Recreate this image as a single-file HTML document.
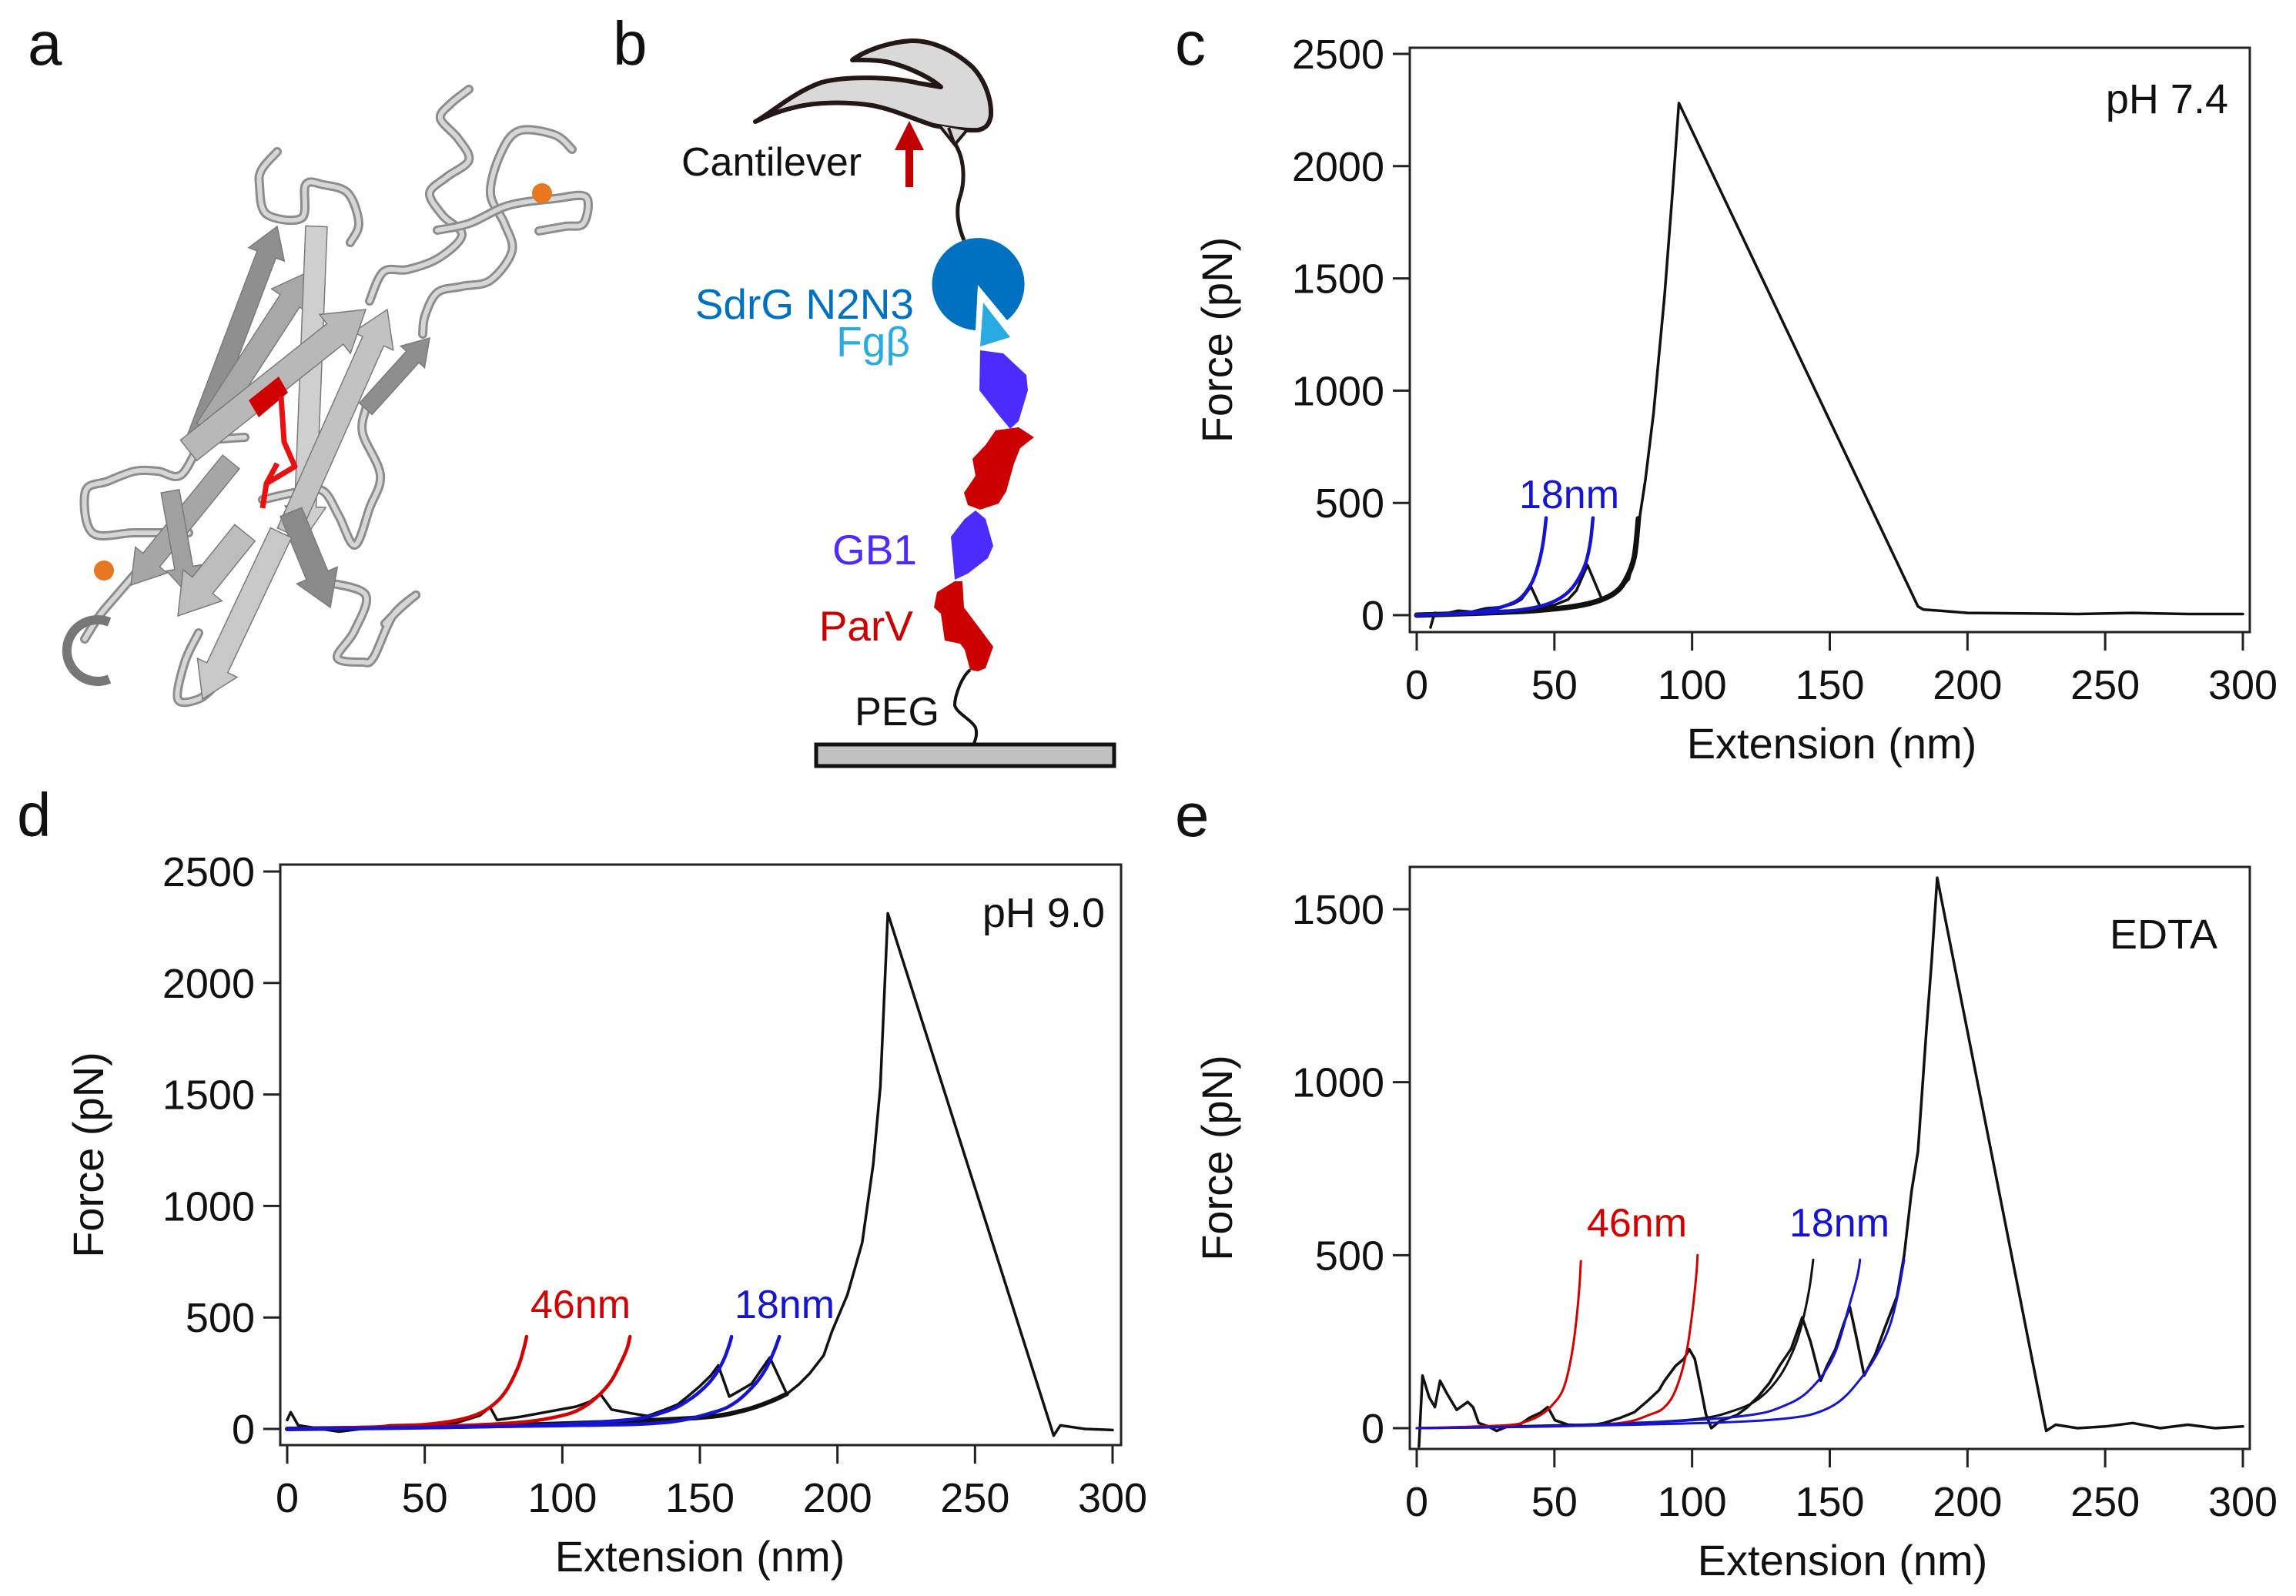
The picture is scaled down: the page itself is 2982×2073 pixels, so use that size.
<!DOCTYPE html>
<html><head><meta charset="utf-8"><style>
html,body{margin:0;padding:0;background:#fff;}
svg{display:block;font-family:"Liberation Sans",Arial,sans-serif;}
</style></head><body>
<svg id="fig" xmlns="http://www.w3.org/2000/svg" width="2982" height="2073" viewBox="0 0 2982 2073">
<rect x="0" y="0" width="2982" height="2073" fill="#fff"/>
<g font-size="80" fill="#111">
<text x="36" y="84">a</text>
<text x="796" y="84">b</text>
<text x="1526" y="84">c</text>
<text x="22" y="1086">d</text>
<text x="1526" y="1086">e</text>
</g>
<g id="panelA"></g>
<g id="panelB">
<path d="M981,158 C1000,148 1030,120 1067,107 C1100,98 1160,100 1193,108 L1222,113 C1210,102 1180,86 1150,80 C1130,77 1115,78 1107,78 C1120,68 1150,55 1183,53 C1210,52 1240,66 1263,87 C1280,105 1288,130 1287,150 C1285,162 1280,167 1270,169 C1255,170 1235,167 1213,163 C1190,156 1160,142 1133,137 C1100,132 1060,132 1030,140 C1005,146 990,154 981,158 Z" fill="#d9d9d9" stroke="#231815" stroke-width="6" stroke-linejoin="round"/>
<path d="M1220,163 L1240,188 L1255,170 M1232,166 L1240,188" fill="#d9d9d9" stroke="#231815" stroke-width="4"/>
<path d="M1176,243 L1176,195 L1162,195 L1181,157 L1200,195 L1186,195 L1186,243 Z" fill="#c00000"/>
<text x="885" y="228" font-size="52" fill="#111">Cantilever</text>
<path d="M1240,186 C1255,210 1252,240 1247,255 C1240,275 1245,295 1252,312" fill="none" stroke="#231815" stroke-width="5"/>
<path d="M1270,370 L1267,429 A60,60 0 1 1 1308,416 Z" fill="#0070c0"/>
<path d="M1277,393 L1312,438 L1273,450 Z" fill="#29abe2"/>
<text x="1187" y="414" font-size="55" fill="#0070c0" text-anchor="end">SdrG N2N3</text>
<text x="1182" y="463" font-size="55" fill="#29abe2" text-anchor="end">Fgβ</text>
<path d="M1273,455 L1303,459 L1333,487 L1335,507 L1323,547 L1312,557 L1297,539 L1272,507 Z" fill="#4a2cff"/>
<path d="M1293,559 L1323,555 L1343,568 L1325,582 L1317,602 L1307,638 L1297,654 L1273,662 L1257,656 L1252,640 L1267,618 L1263,596 L1280,578 Z" fill="#cc0000"/>
<path d="M1267,663 L1280,674 L1290,709 L1283,725 L1257,745 L1240,753 L1238,729 L1235,697 L1253,674 Z" fill="#4a2cff"/>
<path d="M1240,755 L1250,755 L1252,789 L1273,817 L1290,840 L1280,868 L1270,872 L1260,870 L1253,844 L1247,836 L1227,832 L1222,797 L1213,789 L1217,769 Z" fill="#cc0000"/>
<text x="1191" y="733" font-size="55" fill="#4a2cff" text-anchor="end">GB1</text>
<text x="1186" y="832" font-size="55" fill="#cc0000" text-anchor="end">ParV</text>
<path d="M1260,870 C1248,880 1240,905 1240,916 C1242,926 1262,935 1267,945 C1270,955 1266,962 1265,966" fill="none" stroke="#111" stroke-width="4"/>
<text x="1220" y="942" font-size="52" fill="#111" text-anchor="end">PEG</text>
<rect x="1060" y="967" width="387" height="28" fill="#c0c0c0" stroke="#111" stroke-width="5"/>
</g>
<g id="chartC"></g>
<g id="chartD"></g>
<g id="chartE"></g>
</svg>
<script>
// ---------- shared tick data ----------
const xTickVals = [0, 50, 100, 150, 200, 250, 300];
const cYTicks = [0, 500, 1000, 1500, 2000, 2500];
const dYTicks = [0, 500, 1000, 1500, 2000, 2500];
const eYTicks = [0, 500, 1000, 1500];

// ---------- panel c (pH 7.4) ----------
const cTraceX = [5, 6.5, 10, 15, 20, 25, 30, 35, 38, 41.5, 45, 50, 55, 58, 62, 67.4, 71, 74, 77, 79, 81, 83, 86, 90, 93, 95.2, 182, 184, 190, 200, 220, 240, 260, 280, 300];
const cTraceY = [-55, 10, 5, 20, 15, 30, 35, 50, 70, 127, 33, 45, 70, 110, 223, 66, 90, 120, 160, 263, 438, 600, 900, 1423, 1900, 2281, 39, 25, 20, 10, 8, 5, 10, 5, 5];
const cFitBlackX = [0, 20, 40, 55, 65, 72, 76, 79, 80.5];
const cFitBlackY = [0, 8, 18, 35, 60, 100, 160, 260, 430];
const cFitBlue1X = [0, 15, 25, 33, 38, 42, 44.5, 46, 47];
const cFitBlue1Y = [0, 8, 20, 45, 80, 150, 240, 330, 433];
const cFitBlue2X = [0, 20, 35, 45, 52, 57, 61, 63, 64];
const cFitBlue2Y = [0, 8, 20, 40, 75, 130, 220, 320, 433];

// ---------- panel d (pH 9.0) ----------
const dTraceX = [0, 1.3, 4, 10, 18.8, 30, 37.5, 50, 61.6, 70, 73.7, 76.3, 85, 93.8, 105, 110, 113.8, 117.9, 125, 131, 137, 142, 146, 150, 154, 156.7, 160.7, 165, 168.8, 172, 175.4, 181.6, 186, 190, 195, 198, 203.6, 209, 213, 215.6, 218.3, 278.6, 281, 290, 300];
const dTraceY = [40, 75, 16, 5, -12, 5, 16, 20, 28, 60, 98, 40, 55, 75, 100, 122, 157, 87, 70, 58, 85, 110, 150, 192, 240, 285, 145, 175, 203, 260, 320, 157, 200, 250, 330, 437, 601, 835, 1186, 1536, 2313, -30, 16, 0, -5];
const dFitBlackX = [0, 60, 110, 150, 165, 175, 181.6];
const dFitBlackY = [0, 10, 28, 51, 80, 120, 157];
const dFitRed1X = [0, 30, 50, 62, 70, 76, 80, 84, 86, 87];
const dFitRed1Y = [0, 8, 20, 40, 70, 120, 180, 280, 360, 414];
const dFitRed2X = [0, 50, 83, 100, 108, 114, 118, 121, 123.5, 124.6];
const dFitRed2Y = [0, 10, 28, 60, 100, 160, 220, 290, 360, 414];
const dFitBlue1X = [0, 80, 123, 138, 146, 152, 156, 159, 161, 161.5];
const dFitBlue1Y = [0, 12, 40, 80, 130, 190, 250, 320, 390, 414];
const dFitBlue2X = [0, 100, 136.6, 155, 163, 170, 174, 177, 178.9];
const dFitBlue2Y = [0, 15, 28, 75, 120, 200, 270, 350, 414];

// ---------- panel e (EDTA) ----------
const eTraceX = [0.8, 2.1, 4.5, 6.6, 8.5, 11, 14.5, 18.5, 20.5, 22.5, 26, 29, 33, 37, 41, 45, 47.6, 50.2, 55, 60, 63.4, 68, 74, 79, 84, 88, 90, 94, 97, 99, 101, 103, 105, 107, 110, 116.3, 120, 124, 128, 132, 136, 140, 143, 146.7, 149, 152, 155, 157.3, 160, 162.5, 166.5, 170, 174.4, 177, 179.7, 182, 185, 187, 189, 228.6, 232, 240, 250, 260, 270, 280, 290, 300];
const eTraceY = [-53, 152, 90, 61, 137, 100, 53, 76, 60, 15, 5, -8, 5, 8, 30, 45, 61, 23, 10, 8, 8, 15, 30, 46, 80, 110, 137, 180, 200, 228, 200, 122, 40, 0, 20, 38, 60, 91, 130, 183, 230, 320, 250, 137, 180, 228, 300, 350, 250, 152, 213, 290, 381, 500, 685, 800, 1142, 1350, 1591, -8, 10, 0, 5, 15, 0, 10, 0, 5];
const eFitBlackX = [0, 60, 100, 116, 125, 132, 137, 140, 142.5, 144];
const eFitBlackY = [0, 10, 25, 53, 90, 152, 230, 305, 400, 487];
const eFitRed1X = [0, 31.7, 40, 45, 49, 52.9, 55.5, 57.5, 59, 59.6];
const eFitRed1Y = [0, 8, 20, 38, 65, 107, 180, 280, 400, 483];
const eFitRed2X = [0, 50, 74, 85, 90, 94, 97.8, 100, 101.5, 102];
const eFitRed2Y = [0, 5, 15, 40, 61, 110, 213, 330, 440, 500];
const eFitBlue1X = [0, 60, 116, 135, 145, 152, 157, 160, 161];
const eFitBlue1Y = [0, 8, 33, 70, 130, 220, 352, 440, 487];
const eFitBlue2X = [0, 80, 130, 150, 162, 170, 174, 177];
const eFitBlue2Y = [0, 10, 25, 60, 151, 260, 360, 487];

const NS = 'http://www.w3.org/2000/svg';
function mk(parent, tag, attrs) {
  const el = document.createElementNS(NS, tag);
  for (const k in attrs) el.setAttribute(k, attrs[k]);
  parent.appendChild(el);
  return el;
}
function crPath(pts) {
  if (pts.length < 2) return '';
  let d = 'M' + pts[0][0].toFixed(1) + ',' + pts[0][1].toFixed(1);
  for (let i = 0; i < pts.length - 1; i++) {
    const p0 = pts[i - 1] || pts[i], p1 = pts[i], p2 = pts[i + 1], p3 = pts[i + 2] || p2;
    const c1x = p1[0] + (p2[0] - p0[0]) / 6, c1y = p1[1] + (p2[1] - p0[1]) / 6;
    const c2x = p2[0] - (p3[0] - p1[0]) / 6, c2y = p2[1] - (p3[1] - p1[1]) / 6;
    d += ' C' + c1x.toFixed(1) + ',' + c1y.toFixed(1) + ' ' + c2x.toFixed(1) + ',' + c2y.toFixed(1) + ' ' + p2[0].toFixed(1) + ',' + p2[1].toFixed(1);
  }
  return d;
}
function linPath(pts) {
  return pts.map((p, i) => (i ? 'L' : 'M') + p[0].toFixed(1) + ',' + p[1].toFixed(1)).join(' ');
}

function buildChart(g, geo, yTicks, series, inset, labels) {
  const sx = v => geo.x0 + (geo.x300 - geo.x0) * v / 300;
  const sy = v => geo.y0 - (geo.y0 - geo.yRefPx) * v / geo.yRefVal;
  const clip = mk(g, 'clipPath', {id: geo.id + '-clip'});
  mk(clip, 'rect', {x: geo.left, y: geo.top, width: geo.right - geo.left, height: geo.bottom - geo.top});
  const frame = mk(g, 'rect', {x: geo.left, y: geo.top, width: geo.right - geo.left, height: geo.bottom - geo.top, fill: 'none', stroke: '#222', 'stroke-width': 3});
  
  
  const axes = mk(g, 'g', {'font-size': 54, fill: '#111'});
  
  
  yTicks.forEach(v => {
    const y = sy(v);
    const t = mk(axes, 'line', {x1: geo.left - 22, x2: geo.left, y1: y, y2: y, stroke: '#222', 'stroke-width': 3});
    
    
    const l = mk(axes, 'text', {x: geo.left - 33, y: y + 19, 'text-anchor': 'end'});
    l.textContent = v;
    
    
  });
  xTickVals.forEach(v => {
    const x = sx(v);
    const t = mk(axes, 'line', {x1: x, x2: x, y1: geo.bottom, y2: geo.bottom + 24, stroke: '#222', 'stroke-width': 3});
    
    
    const l = mk(axes, 'text', {x: x, y: geo.bottom + 87, 'text-anchor': 'middle'});
    l.textContent = v;
    
    
  });
  const xt = mk(g, 'text', {x: geo.xTitleX, y: geo.bottom + 164, 'text-anchor': 'middle', 'font-size': 56, fill: '#111'});
  xt.textContent = 'Extension (nm)';
  
  
  const yt = mk(g, 'text', {x: 0, y: 0, 'text-anchor': 'middle', 'font-size': 56, fill: '#111', transform: 'translate(' + geo.yTitleX + ',' + ((geo.top + geo.bottom) / 2) + ') rotate(-90)'});
  yt.textContent = 'Force (pN)';
  
  
  const ins = mk(g, 'text', {x: inset.x, y: inset.y, 'text-anchor': 'end', 'font-size': 54, fill: '#111'});
  ins.textContent = inset.text;
  
  
  const plot = mk(g, 'g', {'clip-path': 'url(#' + geo.id + '-clip)'});
  
  
  series.forEach(s => {
    const pts = s.xs.map((x, i) => [sx(x), sy(s.ys[i])]);
    const p = mk(plot, 'path', {d: s.smooth ? crPath(pts) : linPath(pts), fill: 'none', stroke: s.color, 'stroke-width': s.w, 'stroke-linejoin': 'round', 'stroke-linecap': 'round'});
    
    
  });
  labels.forEach(lb => {
    const t = mk(g, 'text', {x: lb.x, y: lb.y, 'text-anchor': 'middle', 'font-size': 52, fill: lb.color});
    t.textContent = lb.text;
    
    
  });
}

const BLUE = '#1414d2', RED = '#d40000';
buildChart(document.getElementById('chartC'),
  {id: 'c', left: 1831, right: 2922, top: 62, bottom: 821, x0: 1840, x300: 2913, y0: 799, yRefPx: 70, yRefVal: 2500, xTitleX: 2379, yTitleX: 1600},
  cYTicks,
  [
    {name: 'wlc-fit-final', xs: cFitBlackX, ys: cFitBlackY, color: '#111', w: 7, smooth: true},
    {name: 'force-trace', xs: cTraceX, ys: cTraceY, color: '#111', w: 3.5, smooth: false},
    {name: 'wlc-fit-gb1-1', xs: cFitBlue1X, ys: cFitBlue1Y, color: BLUE, w: 4.5, smooth: true},
    {name: 'wlc-fit-gb1-2', xs: cFitBlue2X, ys: cFitBlue2Y, color: BLUE, w: 4.5, smooth: true}
  ],
  {x: 2894, y: 147, text: 'pH 7.4'},
  [{x: 2038, y: 660, text: '18nm', color: BLUE}]);

buildChart(document.getElementById('chartD'),
  {id: 'd', left: 364, right: 1456, top: 1123, bottom: 1877, x0: 373, x300: 1445, y0: 1856, yRefPx: 1132, yRefVal: 2500, xTitleX: 909, yTitleX: 134},
  dYTicks,
  [
    {name: 'wlc-fit-final', xs: dFitBlackX, ys: dFitBlackY, color: '#111', w: 6, smooth: true},
    {name: 'force-trace', xs: dTraceX, ys: dTraceY, color: '#111', w: 3.5, smooth: false},
    {name: 'wlc-fit-parv-1', xs: dFitRed1X, ys: dFitRed1Y, color: RED, w: 4.5, smooth: true},
    {name: 'wlc-fit-parv-2', xs: dFitRed2X, ys: dFitRed2Y, color: RED, w: 4.5, smooth: true},
    {name: 'wlc-fit-gb1-1', xs: dFitBlue1X, ys: dFitBlue1Y, color: BLUE, w: 4.5, smooth: true},
    {name: 'wlc-fit-gb1-2', xs: dFitBlue2X, ys: dFitBlue2Y, color: BLUE, w: 4.5, smooth: true}
  ],
  {x: 1435, y: 1204, text: 'pH 9.0'},
  [{x: 754, y: 1712, text: '46nm', color: RED}, {x: 1019, y: 1712, text: '18nm', color: BLUE}]);

buildChart(document.getElementById('chartE'),
  {id: 'e', left: 1831, right: 2922, top: 1126, bottom: 1882, x0: 1840, x300: 2913, y0: 1855, yRefPx: 1181, yRefVal: 1500, xTitleX: 2393, yTitleX: 1600},
  eYTicks,
  [
    {name: 'force-trace', xs: eTraceX, ys: eTraceY, color: '#111', w: 3.5, smooth: false},
    {name: 'wlc-fit-black', xs: eFitBlackX, ys: eFitBlackY, color: '#111', w: 3, smooth: true},
    {name: 'wlc-fit-parv-1', xs: eFitRed1X, ys: eFitRed1Y, color: RED, w: 3, smooth: true},
    {name: 'wlc-fit-parv-2', xs: eFitRed2X, ys: eFitRed2Y, color: RED, w: 3, smooth: true},
    {name: 'wlc-fit-gb1-1', xs: eFitBlue1X, ys: eFitBlue1Y, color: BLUE, w: 3, smooth: true},
    {name: 'wlc-fit-gb1-2', xs: eFitBlue2X, ys: eFitBlue2Y, color: BLUE, w: 3, smooth: true}
  ],
  {x: 2880, y: 1232, text: 'EDTA'},
  [{x: 2126, y: 1606, text: '46nm', color: RED}, {x: 2389, y: 1606, text: '18nm', color: BLUE}]);

// ---------- panel a: protein cartoon ----------
const pa = document.getElementById('panelA');
const loops = [
  [[609,116],[585,135],[572,154],[595,180],[609,208],[580,230],[558,251],[575,280],[600,305],[570,335],[530,350],[498,353],[480,391]],
  [[743,194],[720,175],[674,170],[650,200],[637,251],[655,290],[665,326],[637,364],[600,372],[568,380],[552,410],[549,434]],
  [[568,299],[610,290],[660,267],[720,258],[761,256],[758,290],[734,294],[700,300]],
  [[360,197],[340,220],[337,240],[346,278],[392,283],[397,240],[420,240],[452,251],[466,290],[455,315]],
  [[475,531],[471,563],[494,617],[480,660],[461,708],[440,670],[420,638],[392,638],[341,649]],
  [[318,568],[290,570],[263,574],[235,617],[205,612],[175,612],[140,625],[111,638],[120,692],[175,692],[245,692]],
  [[175,746],[150,775],[129,800],[110,830]],
  [[429,757],[475,773],[460,820],[438,854],[470,860],[485,854],[510,800],[540,773],[520,790],[500,810]],
  [[258,822],[240,860],[231,908],[258,908],[280,890]]
];
loops.forEach(l => {
  const d = crPath(l);
  const o = mk(pa, 'path', {d: d, fill: 'none', stroke: '#8c8c8c', 'stroke-width': 12, 'stroke-linecap': 'round'});
  
  
  const i = mk(pa, 'path', {d: d, fill: 'none', stroke: '#d6d6d6', 'stroke-width': 6, 'stroke-linecap': 'round'});
  
  
});
function strand(x1, y1, x2, y2, w, fill) {
  const L = Math.hypot(x2 - x1, y2 - y1), dx = (x2 - x1) / L, dy = (y2 - y1) / L, nx = -dy, ny = dx;
  const h = 1.5 * w, bx = x2 - dx * h, by = y2 - dy * h, hw = w / 2, aw = w * 0.95;
  const pts = [[x1 + nx * hw, y1 + ny * hw], [bx + nx * hw, by + ny * hw], [bx + nx * aw, by + ny * aw], [x2, y2], [bx - nx * aw, by - ny * aw], [bx - nx * hw, by - ny * hw], [x1 - nx * hw, y1 - ny * hw]];
  const p = mk(pa, 'polygon', {points: pts.map(q => q[0].toFixed(1) + ',' + q[1].toFixed(1)).join(' '), fill: fill, stroke: '#7a7a7a', 'stroke-width': 1.5});
  
  
}
strand(254, 574, 360, 294, 26, '#8f8f8f');
strand(300, 600, 170, 760, 28, '#a6a6a6');
strand(268, 558, 401, 353, 30, '#a8a8a8');
strand(411, 294, 395, 700, 28, '#cfcfcf');
strand(374, 692, 503, 402, 30, '#c2c2c2');
strand(245, 585, 475, 402, 34, '#b8b8b8');
strand(475, 531, 558, 439, 22, '#8e8e8e');
strand(221, 638, 245, 773, 24, '#a0a0a0');
strand(318, 692, 231, 800, 34, '#bdbdbd');
strand(378, 665, 429, 789, 30, '#8a8a8a');
strand(365, 692, 263, 908, 30, '#c8c8c8');
const red = mk(pa, 'polygon', {points: '323,520 362,489 374,510 336,542', fill: '#d00000'});


const side = mk(pa, 'path', {d: 'M365,515 L369,574 L383,606 L346,628 L341,660 M346,628 L360,602', fill: 'none', stroke: '#e81010', 'stroke-width': 7, 'stroke-linejoin': 'round'});


const hook = mk(pa, 'path', {d: 'M142,808 A40,40 0 1 0 142,882', fill: 'none', stroke: '#777', 'stroke-width': 12});


[[704, 251], [135, 741]].forEach(c => {
  const s = mk(pa, 'circle', {cx: c[0], cy: c[1], r: 13, fill: '#e87722'});
  
  
});
</script>
</body></html>
